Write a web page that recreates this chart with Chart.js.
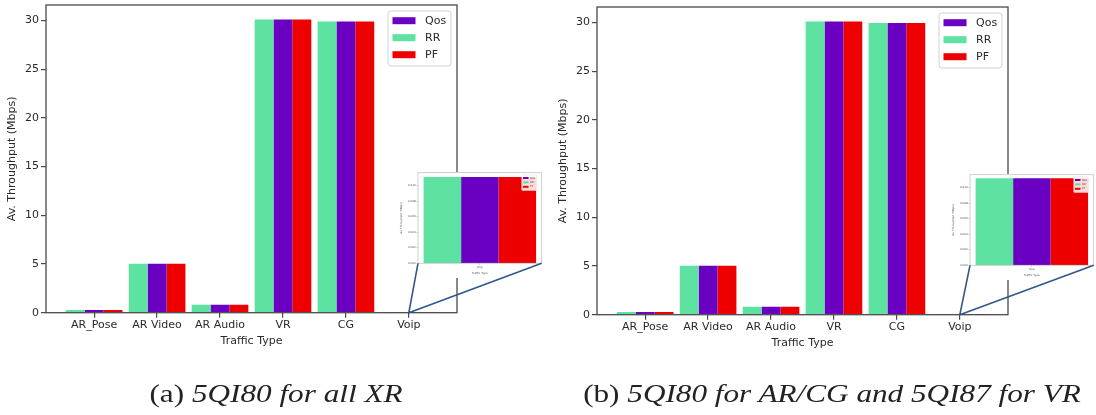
<!DOCTYPE html>
<html>
<head>
<meta charset="utf-8">
<script src="https://cdn.jsdelivr.net/npm/chart.js@4.4.0/dist/chart.umd.min.js"></script>
<style>
  body { margin: 0; background: #fff; }
  #page { position: relative; width: 1096px; height: 415px; overflow: hidden; background: #fff; }
  canvas { position: absolute; }
  .cap { position: absolute; top: 379px; font-family: 'Liberation Serif', serif; font-size: 26px; color: #222;
         white-space: nowrap; transform: translateX(-50%) scaleX(1.2); }
</style>
</head>
<body>
<div id="page">
  <canvas id="mainA" width="545" height="350" style="left:0;top:0"></canvas>
  <canvas id="mainB" width="545" height="350" style="left:551px;top:2px"></canvas>
  <canvas id="insetA" width="146" height="106" style="left:398px;top:172px"></canvas>
  <canvas id="insetB" width="146" height="106" style="left:950px;top:174px"></canvas>
  <canvas id="links" width="1096" height="415" style="left:0;top:0"></canvas>
  <div class="cap" style="left:276px">(a) <i>5QI80 for all XR</i></div>
  <div class="cap" style="left:832px">(b) <i>5QI80 for AR/CG and 5QI87 for VR</i></div>
</div>
<script>
// data
const categories = ['AR_Pose', 'AR Video', 'AR Audio', 'VR', 'CG', 'Voip'];
const barOrder = ['RR', 'Qos', 'PF'];      // order of bars inside a group
const legendOrder = ['Qos', 'RR', 'PF'];   // order in the legend box

// (a) 5QI80 for all XR
const rrA  = [0.28, 5.02, 0.82, 30.1, 29.9, 0.0111];
const qosA = [0.28, 5.02, 0.82, 30.1, 29.9, 0.0111];
const pfA  = [0.28, 5.02, 0.82, 30.1, 29.9, 0.0111];

// (b) 5QI80 for AR/CG and 5QI87 for VR
const rrB  = [0.28, 5.02, 0.82, 30.1, 29.95, 0.0112];
const qosB = [0.28, 5.02, 0.82, 30.1, 29.95, 0.0112];
const pfB  = [0.28, 5.02, 0.82, 30.1, 29.95, 0.0112];

const yTicks = [0, 5, 10, 15, 20, 25, 30];
const insetTicks = [0, 0.002, 0.004, 0.006, 0.008, 0.010];

const colors = { RR: '#5de2a1', Qos: '#6a00c2', PF: '#ee0000' };
const textColor = '#2a2a2a';
const font = 'DejaVu Sans';

// full box around the plot, like matplotlib spines
const framePlugin = {
    id: 'frame',
    afterDatasetsDraw(chart, args, opts) {
        const { ctx, chartArea: a } = chart;
        ctx.save();
        ctx.strokeStyle = opts.color;
        ctx.lineWidth = opts.width;
        ctx.strokeRect(a.left, a.top, a.right - a.left, a.bottom - a.top);
        ctx.restore();
    }
};

// legend box in the upper right corner of the plot
const boxLegend = {
    id: 'boxLegend',
    afterDraw(chart, args, o) {
        const { ctx, chartArea: a } = chart;
        const x0 = a.right - o.marginX - o.width;
        const y0 = a.top + o.marginY;
        ctx.save();
        ctx.fillStyle = 'rgba(255,255,255,0.85)';
        ctx.strokeStyle = o.border;
        ctx.lineWidth = o.lineWidth;
        ctx.beginPath();
        ctx.roundRect(x0, y0, o.width, o.height, o.radius);
        ctx.fill();
        ctx.stroke();
        ctx.font = o.fontSize + 'px "' + font + '"';
        ctx.textBaseline = 'middle';
        legendOrder.forEach((name, i) => {
            const ds = chart.data.datasets.find(d => d.label === name);
            const cy = y0 + o.firstRow + i * o.rowGap;
            ctx.fillStyle = ds.backgroundColor;
            ctx.fillRect(x0 + o.swatchX, cy - o.swatchH / 2, o.swatchW, o.swatchH);
            ctx.fillStyle = o.textColor;
            ctx.fillText(name, x0 + o.textX, cy);
        });
        ctx.restore();
    }
};

const whiteBg = {
    id: 'whiteBg',
    beforeDraw(chart) {
        const ctx = chart.ctx;
        ctx.save();
        ctx.fillStyle = '#fff';
        ctx.fillRect(0, 0, chart.width, chart.height);
        ctx.restore();
    }
};

function mainChart(id, rr, qos, pf) {
    const series = { RR: rr, Qos: qos, PF: pf };
    return new Chart(document.getElementById(id), {
        type: 'bar',
        data: {
            datasets: barOrder.map(name => ({
                label: name,
                data: series[name].map((v, i) => ({ x: i, y: v })),
                backgroundColor: colors[name],
                borderWidth: 0,
                categoryPercentage: 0.9,
                barPercentage: 1.0
            }))
        },
        options: {
            responsive: false,
            animation: false,
            layout: { padding: { top: 5, right: 88, bottom: 0, left: 0 } },
            plugins: {
                legend: { display: false },
                tooltip: { enabled: false },
                frame: { color: '#4a4a4a', width: 1.3 },
                boxLegend: {
                    marginX: 6, marginY: 6, width: 63, height: 55, radius: 3,
                    border: '#d2d2d2', lineWidth: 1,
                    firstRow: 9.7, rowGap: 17, swatchX: 4.5, swatchW: 23, swatchH: 7,
                    textX: 37, fontSize: 11, textColor: textColor
                }
            },
            scales: {
                x: {
                    type: 'linear',
                    min: -0.765,
                    max: 5.765,
                    offset: false,
                    afterBuildTicks: axis => { axis.ticks = categories.map((c, i) => ({ value: i })); },
                    afterFit: axis => { axis.height = 37.3; axis.paddingLeft = 0; axis.paddingRight = 0; },
                    ticks: {
                        callback: v => categories[v],
                        autoSkip: false, maxRotation: 0, padding: 1,
                        color: textColor, font: { family: font, size: 11 }
                    },
                    grid: { offset: false, drawOnChartArea: false, tickLength: 5, color: '#4a4a4a', lineWidth: 1.2 },
                    border: { display: false },
                    title: {
                        display: true, text: 'Traffic Type', color: textColor,
                        font: { family: font, size: 11 }, padding: { top: 0, bottom: 2 }
                    }
                },
                y: {
                    min: 0,
                    max: 31.6,
                    afterBuildTicks: axis => { axis.ticks = yTicks.map(v => ({ value: v })); },
                    afterFit: axis => { axis.width = 46; axis.paddingTop = 0; axis.paddingBottom = 0; },
                    ticks: { padding: 2, color: textColor, font: { family: font, size: 11 } },
                    grid: { drawOnChartArea: false, tickLength: 5, color: '#4a4a4a', lineWidth: 1.2 },
                    border: { display: false },
                    title: {
                        display: true, text: 'Av. Throughput (Mbps)', color: textColor,
                        font: { family: font, size: 11 }, padding: { top: 6, bottom: 0 }
                    }
                }
            }
        },
        plugins: [framePlugin, boxLegend]
    });
}

// zoomed view of the Voip group
function insetChart(id, rr, qos, pf) {
    const series = { RR: rr, Qos: qos, PF: pf };
    const last = categories.length - 1;
    const small = { family: font, size: 2.8 };
    return new Chart(document.getElementById(id), {
        type: 'bar',
        data: {
            labels: [categories[last]],
            datasets: barOrder.map(name => ({
                label: name,
                data: [series[name][last]],
                backgroundColor: colors[name],
                borderWidth: 0,
                categoryPercentage: 0.909,
                barPercentage: 1.0
            }))
        },
        options: {
            responsive: false,
            animation: false,
            layout: { padding: { top: 0.7, right: 2.3, bottom: 0, left: 0 } },
            plugins: {
                legend: { display: false },
                tooltip: { enabled: false },
                frame: { color: '#c4c4c4', width: 0.8 },
                boxLegend: {
                    marginX: 5, marginY: 2.3, width: 15, height: 15.5, radius: 1,
                    border: '#d8d8d8', lineWidth: 0.5,
                    firstRow: 3, rowGap: 4.4, swatchX: 1.3, swatchW: 5.5, swatchH: 2,
                    textX: 8.5, fontSize: 2.6, textColor: '#444'
                }
            },
            scales: {
                x: {
                    offset: true,
                    afterFit: axis => { axis.height = 14.7; axis.paddingLeft = 0; axis.paddingRight = 0; },
                    ticks: { padding: 0.8, color: '#555', font: small, maxRotation: 0 },
                    grid: { offset: false, drawOnChartArea: false, tickLength: 1.5, color: '#999', lineWidth: 0.5 },
                    border: { display: false },
                    title: {
                        display: true, text: 'Traffic Type', color: '#555',
                        font: small, padding: { top: 0, bottom: 3.5 }
                    }
                },
                y: {
                    min: 0,
                    max: 0.01165,
                    afterBuildTicks: axis => { axis.ticks = insetTicks.map(v => ({ value: v })); },
                    afterFit: axis => { axis.width = 20; axis.paddingTop = 0; axis.paddingBottom = 0; },
                    ticks: { callback: v => v.toFixed(3), padding: 0.6, color: '#555', font: small },
                    grid: { drawOnChartArea: false, tickLength: 1.5, color: '#999', lineWidth: 0.5 },
                    border: { display: false },
                    title: {
                        display: true, text: 'Av. Throughput (Mbps)', color: '#555',
                        font: small, padding: { top: 1.5, bottom: 0 }
                    }
                }
            }
        },
        plugins: [whiteBg, framePlugin, boxLegend]
    });
}

// lines from the Voip point to the lower corners of the inset
function drawLinks(main, mainId, inset, insetId) {
    const ctx = document.getElementById('links').getContext('2d');
    const mainEl = document.getElementById(mainId);
    const insetEl = document.getElementById(insetId);
    const px = mainEl.offsetLeft + main.scales.x.getPixelForValue(categories.length - 1);
    const py = mainEl.offsetTop + main.scales.y.getPixelForValue(0);
    const a = inset.chartArea;
    const ix = insetEl.offsetLeft;
    const iy = insetEl.offsetTop;
    ctx.save();
    ctx.strokeStyle = '#30578a';
    ctx.lineWidth = 1.6;
    ctx.beginPath();
    ctx.moveTo(px, py);
    ctx.lineTo(ix + a.left, iy + a.bottom);
    ctx.moveTo(px, py);
    ctx.lineTo(ix + a.right, iy + a.bottom);
    ctx.stroke();
    ctx.restore();
}

const chartA = mainChart('mainA', rrA, qosA, pfA);
const chartB = mainChart('mainB', rrB, qosB, pfB);
const zoomA = insetChart('insetA', rrA, qosA, pfA);
const zoomB = insetChart('insetB', rrB, qosB, pfB);
drawLinks(chartA, 'mainA', zoomA, 'insetA');
drawLinks(chartB, 'mainB', zoomB, 'insetB');
</script>
</body>
</html>
